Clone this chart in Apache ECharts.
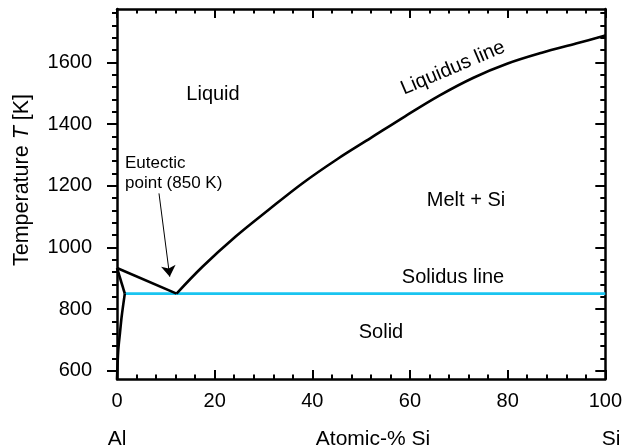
<!DOCTYPE html>
<html>
<head>
<meta charset="utf-8">
<script src="https://cdn.jsdelivr.net/npm/echarts@6/dist/echarts.min.js"></script>
<style>
  html, body { margin: 0; padding: 0; background: #fff; }
  #chart { width: 625px; height: 447px; }
</style>
</head>
<body>
<div id="chart"></div>
<script>
// Al–Si phase diagram: composition in atomic-% Si, temperature in K
const liquidusAl = [[0, 933], [12.2, 850]];
const liquidusSi = [
  [12.2, 850], [17.5, 937], [24.3, 1035], [31, 1121], [38, 1208], [45, 1285],
  [52, 1355], [59, 1425], [66, 1492], [73, 1550], [80, 1596], [87, 1631],
  [94, 1661], [100, 1687]
];
const solidusAl = [[0, 933], [1.6, 850]];
const solvusAl = [[1.6, 850], [0.95, 775], [0.6, 721], [0.26, 667], [0, 573]];
const eutecticLine = [[1.6, 850], [100, 850]];

// temperature scale spans 573–1773 K
const yMajorTicks = [600, 800, 1000, 1200, 1400, 1600];
const yMinorTicks = [600, 640, 680, 720, 760, 800, 840, 880, 920, 960, 1000, 1040,
  1080, 1120, 1160, 1200, 1240, 1280, 1320, 1360, 1400, 1440, 1480, 1520, 1560,
  1600, 1640, 1680, 1720, 1760];
const xTickStep = 20;

// arrow pointing at the eutectic point
const arrowFrom = [8.6, 1175];
const arrowTo = [10.8, 905];

const FONT = 'Liberation Sans, Arial, Helvetica, sans-serif';
const INK = '#000';
const CYAN = '#1ac4f0';

const chart = echarts.init(document.getElementById('chart'), null, { renderer: 'canvas' });

function yAxisDef(position, ticks, len, inside, withLine, withLabels) {
  return {
    type: 'value', min: 573, max: 1773, position: position,
    splitLine: { show: false },
    axisLine: { show: withLine, lineStyle: { color: INK, width: 2.5 } },
    axisTick: { show: true, inside: inside, length: len, customValues: ticks,
      lineStyle: { color: INK, width: 2 } },
    axisLabel: withLabels
      ? { show: true, customValues: yMajorTicks, margin: 25, color: INK,
          fontFamily: FONT, fontSize: 20, formatter: v => String(v) }
      : { show: false }
  };
}

function xAxisDef(position, withLabels) {
  return {
    type: 'value', min: 0, max: 100, interval: xTickStep, position: position,
    splitLine: { show: false },
    axisLine: { show: true, lineStyle: { color: INK, width: 2.5 } },
    axisTick: { show: true, inside: true, length: 9, lineStyle: { color: INK, width: 2 } },
    minorTick: { show: true, splitNumber: 5, length: 4.5, lineStyle: { color: INK, width: 2 } },
    axisLabel: withLabels
      ? { show: true, margin: 12, color: INK, fontFamily: FONT, fontSize: 20 }
      : { show: false }
  };
}

function lineSeries(data, color, smooth) {
  return {
    type: 'line', data: data, xAxisIndex: 0, yAxisIndex: 0,
    symbol: 'none', smooth: smooth || false, silent: true,
    lineStyle: { color: color, width: 2.6 },
    emphasis: { disabled: true }
  };
}

function label(text, x, y, size, extra) {
  return Object.assign({
    type: 'text', x: x, y: y, silent: true,
    style: { text: text, fill: INK, font: size + 'px ' + FONT,
      textAlign: 'center', textVerticalAlign: 'middle' }
  }, extra || {});
}

const liquidusSeries = lineSeries(liquidusSi, INK, 0.35);
liquidusSeries.markLine = {
  silent: true, animation: false,
  symbol: ['none', 'arrow'], symbolSize: 11,
  label: { show: false },
  itemStyle: { color: INK },
  lineStyle: { color: INK, width: 1, type: 'solid' },
  emphasis: { disabled: true },
  data: [[{ coord: arrowFrom }, { coord: arrowTo }]]
};

chart.setOption({
  animation: false,
  backgroundColor: '#fff',
  grid: { left: 117, right: 16, top: 9, bottom: 68 },
  xAxis: [xAxisDef('bottom', true), xAxisDef('top', false)],
  yAxis: [
    yAxisDef('left', yMajorTicks, 10, false, true, true),
    yAxisDef('left', yMinorTicks, 5, false, false, false),
    yAxisDef('right', yMajorTicks, 10, true, true, false),
    yAxisDef('right', yMinorTicks, 5, true, false, false)
  ],
  series: [
    lineSeries(eutecticLine, CYAN),
    lineSeries(liquidusAl, INK),
    liquidusSeries,
    lineSeries(solidusAl, INK),
    lineSeries(solvusAl, INK, 0.3)
  ],
  graphic: [
    label('Liquid', 213, 94, 20),
    label('Melt + Si', 466, 200, 20),
    label('Solidus line', 453, 277, 20),
    label('Solid', 381, 332, 20),
    label('Liquidus line', 453, 68, 20, { rotation: 23 * Math.PI / 180 }),
    {
      type: 'text', x: 125, y: 173.5, silent: true,
      style: { text: 'Eutectic\npoint (850 K)', fill: INK, font: '17px ' + FONT,
        textAlign: 'left', textVerticalAlign: 'middle', lineHeight: 20 }
    },
    label('Al', 117, 439, 21),
    label('Atomic-% Si', 373, 439, 21),
    label('Si', 611, 439, 21),
    {
      type: 'text', x: 22, y: 180, silent: true, rotation: Math.PI / 2,
      style: {
        text: 'Temperature {i|T} [K]', fill: INK, font: '21.5px ' + FONT,
        textAlign: 'center', textVerticalAlign: 'middle',
        rich: { i: { fontStyle: 'italic', fontSize: 21.5, fontFamily: FONT, fill: INK } }
      }
    }
  ]
});
</script>
</body>
</html>
